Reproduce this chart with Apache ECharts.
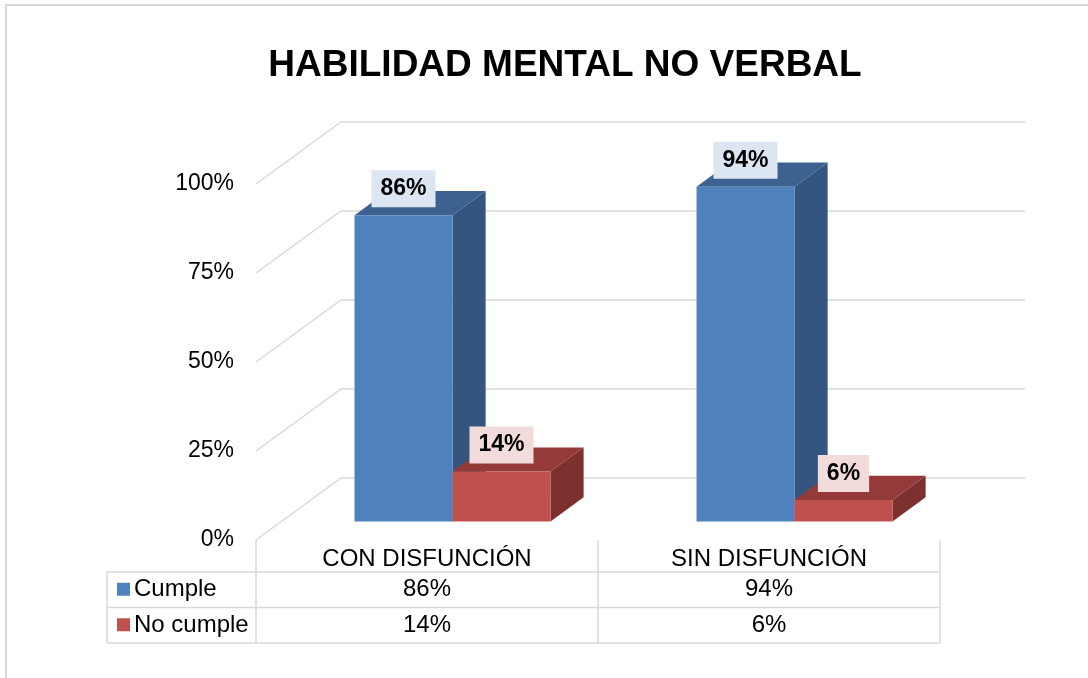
<!DOCTYPE html>
<html>
<head>
<meta charset="utf-8">
<title>Habilidad mental no verbal</title>
<script src="https://cdn.jsdelivr.net/npm/echarts@6/dist/echarts.min.js"></script>
<style>
  html, body { margin: 0; padding: 0; background: #fff; }
  #chart { width: 1088px; height: 678px; }
</style>
</head>
<body>
<div id="chart"></div>
<script>
const titleText = 'HABILIDAD MENTAL NO VERBAL'
const categories = ['CON DISFUNCIÓN', 'SIN DISFUNCIÓN']
const seriesNames = ['Cumple', 'No cumple']
const cumple = [0.86, 0.94]
const noCumple = [0.14, 0.06]
const yTicks = [0, 0.25, 0.5, 0.75, 1]

const FONT = '"Liberation Sans", Arial, sans-serif'
const frontColors = ['#4f81bd', '#c0504d']
const sideColors = ['#34557f', '#7d312f']
const topColors = ['#3d6292', '#943b39']
const labelBg = ['#dce6f2', '#f2dcdb']
// depth of the 3D box
const DX = 85
const DY = -62
const BAR_D0 = 0.3
const BAR_D1 = 0.69
const BAR_W = 0.2865

const gridLeft = 256
const gridRight = 940
const gridBottomY = 540

const pct = v => Math.round(v * 100) + '%'

function renderGridLines(params, api) {
  const cs = params.coordSys
  const y = api.coord([0, api.value(0)])[1]
  const x0 = cs.x
  const x1 = cs.x + cs.width
  return {
    type: 'polyline',
    shape: { points: [[x0, y], [x0 + DX, y + DY], [x1 + DX, y + DY]] },
    style: { stroke: '#d9d9d9', lineWidth: 1.5, fill: null },
    silent: true
  }
}

function makeBarRender(idx) {
  return function(params, api) {
    const c = api.coord([api.value(0), 0])
    const t = api.coord([api.value(0), api.value(1)])
    const bw = api.size([1, 0])[0] * BAR_W
    const ox = DX * BAR_D0
    const oy = DY * BAR_D0
    const dx = DX * (BAR_D1 - BAR_D0)
    const dy = DY * (BAR_D1 - BAR_D0)
    const xl = c[0] + ox - (idx === 0 ? bw : 0)
    const xr = xl + bw
    const yb = c[1] + oy
    const yt = t[1] + oy
    return {
      type: 'group',
      children: [
        {
          type: 'polygon',
          shape: { points: [[xr, yt], [xr + dx, yt + dy], [xr + dx, yb + dy], [xr, yb]] },
          style: { fill: sideColors[idx] }
        },
        {
          type: 'polygon',
          shape: { points: [[xl, yt], [xl + dx, yt + dy], [xr + dx, yt + dy], [xr, yt]] },
          style: { fill: topColors[idx] }
        },
        {
          type: 'rect',
          shape: { x: xl, y: yt, width: bw, height: yb - yt },
          style: { fill: frontColors[idx] }
        },
        {
          type: 'text',
          x: (xl + xr) / 2,
          y: yt - 8,
          style: {
            text: pct(api.value(1)),
            font: 'bold 23px ' + FONT,
            fill: '#000',
            align: 'center',
            verticalAlign: 'bottom',
            backgroundColor: labelBg[idx],
            padding: [7, 9],
            lineHeight: 23
          }
        }
      ]
    }
  }
}

// data table below the chart
function tableGraphics() {
  const colW = (gridRight - gridLeft) / categories.length
  const rowTop = 572
  const rowH = 35.5
  const tableLeft = 107
  const els = []
  const line = (x1, y1, x2, y2) => els.push({
    type: 'line',
    shape: { x1: x1, y1: y1, x2: x2, y2: y2 },
    style: { stroke: '#d9d9d9', lineWidth: 1.5 },
    silent: true
  })
  const bottom = rowTop + rowH * 2
  for (let i = 0; i <= categories.length; i++) {
    line(gridLeft + colW * i, gridBottomY, gridLeft + colW * i, bottom)
  }
  line(tableLeft, rowTop, tableLeft, bottom)
  for (let r = 0; r <= 2; r++) {
    line(tableLeft, rowTop + rowH * r, gridRight, rowTop + rowH * r)
  }
  const rows = [cumple, noCumple]
  rows.forEach((vals, r) => {
    const cy = rowTop + rowH * r + rowH / 2
    els.push({
      type: 'rect',
      shape: { x: 117, y: cy - 7, width: 13, height: 13 },
      style: { fill: frontColors[r] }
    })
    els.push({
      type: 'text',
      x: 134,
      y: cy,
      style: { text: seriesNames[r], font: '24px ' + FONT, fill: '#000', verticalAlign: 'middle' }
    })
    vals.forEach((v, i) => {
      els.push({
        type: 'text',
        x: gridLeft + colW * i + colW / 2,
        y: cy,
        style: { text: pct(v), font: '24px ' + FONT, fill: '#000', align: 'center', verticalAlign: 'middle' }
      })
    })
  })
  return els
}

const chart = echarts.init(document.getElementById('chart'))
chart.setOption({
  animation: false,
  backgroundColor: '#fff',
  grid: {
    left: gridLeft,
    right: 1088 - gridRight,
    top: 184,
    bottom: 678 - gridBottomY
  },
  xAxis: {
    type: 'category',
    data: categories,
    axisLine: { show: false },
    axisTick: { show: false },
    axisLabel: { fontSize: 24, fontFamily: FONT, color: '#000', margin: 7 }
  },
  yAxis: {
    type: 'value',
    min: 0,
    max: 1,
    interval: 0.25,
    splitLine: { show: false },
    axisLine: { show: false },
    axisTick: { show: false },
    axisLabel: {
      fontSize: 23,
      fontFamily: FONT,
      color: '#000',
      margin: 22,
      formatter: v => pct(v)
    }
  },
  graphic: [
    {
      type: 'rect',
      shape: { x: 6, y: 5, width: 1200, height: 800 },
      style: { fill: null, stroke: '#d9d9d9', lineWidth: 2 },
      silent: true
    },
    {
      type: 'text',
      x: 565,
      y: 66,
      style: {
        text: titleText,
        font: 'bold 37px ' + FONT,
        fill: '#000',
        align: 'center',
        verticalAlign: 'middle'
      }
    }
  ].concat(tableGraphics()),
  series: [
    {
      type: 'custom',
      name: 'grid',
      renderItem: renderGridLines,
      data: yTicks.map(v => [v]),
      encode: { y: 0 },
      silent: true
    },
    {
      type: 'custom',
      name: seriesNames[0],
      renderItem: makeBarRender(0),
      data: cumple.map((v, i) => [i, v]),
      encode: { x: 0, y: 1 }
    },
    {
      type: 'custom',
      name: seriesNames[1],
      renderItem: makeBarRender(1),
      data: noCumple.map((v, i) => [i, v]),
      encode: { x: 0, y: 1 }
    }
  ]
})
</script>
</body>
</html>
